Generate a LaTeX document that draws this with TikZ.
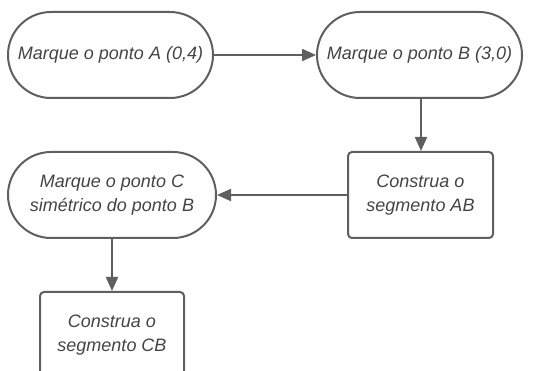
\documentclass[tikz,border=0pt]{standalone}
\usepackage{fontspec}
\setmainfont{Liberation Sans}
\usetikzlibrary{arrows.meta}
\definecolor{ln}{HTML}{5F5F5F}
\definecolor{tx}{HTML}{444444}
\begin{document}
\begin{tikzpicture}[x=1pt,y=-1pt,
  base/.style={draw=ln,line width=2pt,inner sep=0pt,minimum height=86pt,align=center,
    font=\fontsize{18}{24}\selectfont\itshape,text=tx},
  term/.style={base,rounded corners=43pt},
  proc/.style={base,rounded corners=4pt},
  conn/.style={draw=ln,line width=2pt,-{Triangle[length=14pt,width=12pt]}}]
\path[use as bounding box,clip] (0,0) rectangle (544,371);
\node[term,minimum width=205pt] (A) at (110.5,55) {Marque o ponto A (0,4)};
\node[term,minimum width=205pt] (B) at (419.5,55) {Marque o ponto B (3,0)};
\node[proc,minimum width=145pt] (AB) at (420.5,195) {Construa o\\segmento AB};
\node[term,minimum width=208pt] (C) at (112,195) {Marque o ponto C\\simétrico do ponto B};
\node[proc,minimum width=144pt] (CB) at (112,335) {Construa o\\segmento CB};
\draw[conn] (A) -- (B);
\draw[conn] (B.south -| 421,0) -- (AB.north -| 421,0);
\draw[conn] (AB) -- (C);
\draw[conn] (C) -- (CB);
\end{tikzpicture}
\end{document}
